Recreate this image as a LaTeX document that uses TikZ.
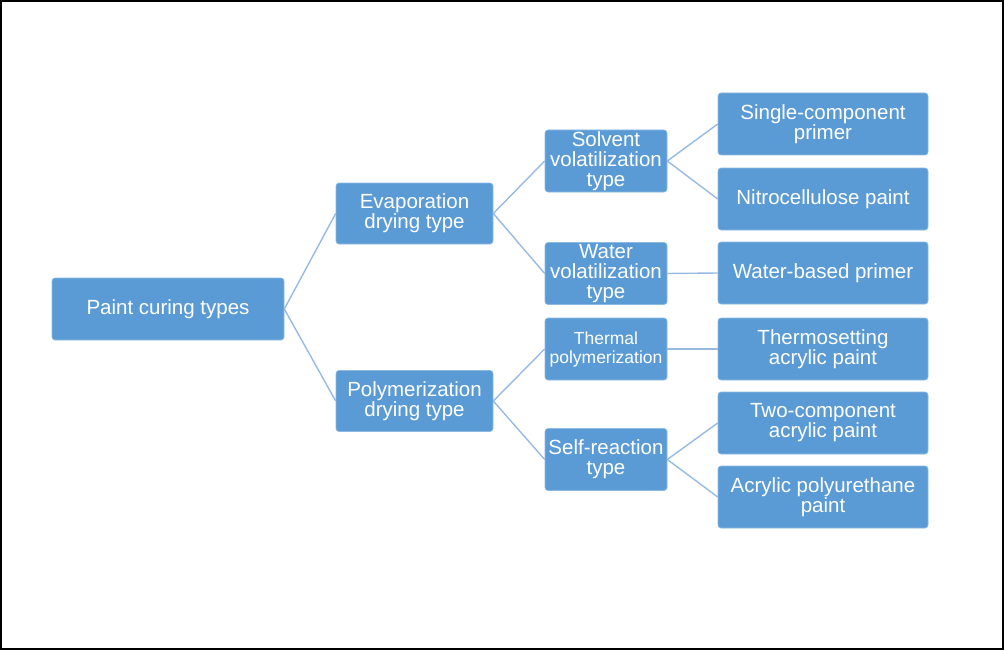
\documentclass[tikz,border=0pt]{standalone}
\usepackage{fontspec}
\setmainfont{Liberation Sans}
\definecolor{boxblue}{RGB}{91,155,213}
\definecolor{linkblue}{RGB}{150,186,226}
\begin{document}
\begin{tikzpicture}[x=1pt,y=-1pt,
  box/.style={fill=boxblue, draw=boxblue!70!white, line width=0.6pt, rounded corners=3pt, text=white, align=center, inner sep=0pt, font=\fontsize{20.5}{20}\selectfont},
  lv1/.style={box, minimum width=157pt, minimum height=61pt},
  lv2/.style={box, minimum width=122pt, minimum height=62pt},
  lv3/.style={box, minimum width=210pt, minimum height=62pt},
  link/.style={draw=linkblue, line width=1.4pt}]
\useasboundingbox (0,0) rectangle (1004,650);
\draw[line width=2pt] (1,1) rectangle (1003,649);

\node[box, minimum width=232pt, minimum height=62pt] (root) at (168,309) {Paint curing types};

\node[lv1] (evap) at (414.5,213.5) {Evaporation\\drying type};
\node[lv1] (poly) at (414.5,401) {Polymerization\\drying type};

\node[lv2] (solv) at (606,161) {Solvent\\volatilization\\type};
\node[lv2] (water) at (606,273.5) {Water\\volatilization\\type};
\node[lv2, font=\fontsize{17.5}{19}\selectfont] (therm) at (606,349) {Thermal\\polymerization};
\node[lv2] (self) at (606,459.5) {Self-reaction\\type};

\node[lv3] (single) at (823,124) {Single-component\\primer};
\node[lv3] (nitro) at (823,199) {Nitrocellulose paint};
\node[lv3] (wbp) at (823,273) {Water-based primer};
\node[lv3] (thset) at (823,349) {Thermosetting\\acrylic paint};
\node[lv3] (twoc) at (823,423) {Two-component\\acrylic paint};
\node[lv3] (apu) at (823,497) {Acrylic polyurethane\\paint};

\draw[link] (root.east) -- (evap.west);
\draw[link] (root.east) -- (poly.west);
\draw[link] (evap.east) -- (solv.west);
\draw[link] (evap.east) -- (water.west);
\draw[link] (poly.east) -- (therm.west);
\draw[link] (poly.east) -- (self.west);
\draw[link] (solv.east) -- (single.west);
\draw[link] (solv.east) -- (nitro.west);
\draw[link] (water.east) -- (wbp.west);
\draw[link] (therm.east) -- (thset.west);
\draw[link] (self.east) -- (twoc.west);
\draw[link] (self.east) -- (apu.west);
\end{tikzpicture}
\end{document}
